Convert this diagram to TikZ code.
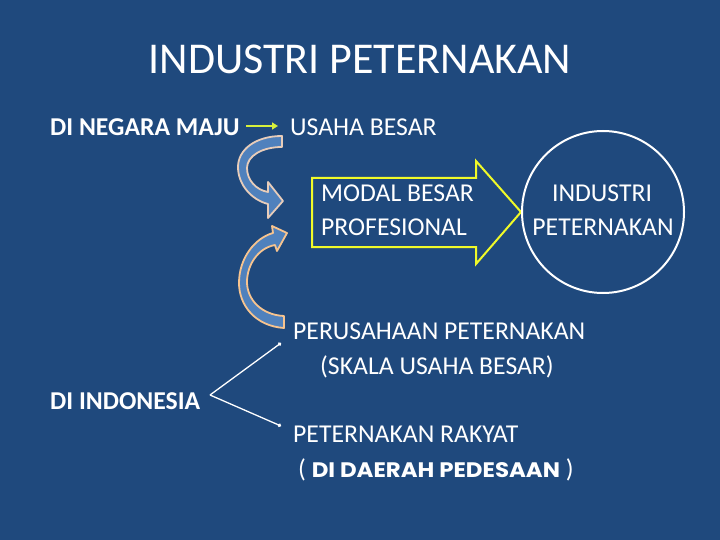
\documentclass[tikz,border=0pt]{standalone}
\usepackage{fontspec}
\usepackage{graphicx}
\setmainfont{Carlito}
\newfontfamily\disp{Poppins}
\usetikzlibrary{arrows.meta}
\definecolor{bg}{RGB}{31,73,125}
\definecolor{cfill}{RGB}{79,129,189}
\definecolor{cline1}{RGB}{232,205,186}
\definecolor{cline2}{RGB}{247,196,143}
\definecolor{ygreen}{RGB}{214,240,60}
\definecolor{yel}{RGB}{240,250,40}
\begin{document}
\begin{tikzpicture}[x=1pt,y=-1pt,
  txt/.style={text=white,inner sep=0pt,anchor=base west,font=\fontsize{25.7}{30}\selectfont},
  txtc/.style={text=white,inner sep=0pt,anchor=base,font=\fontsize{25.7}{30}\selectfont},
  curv1/.style={draw=cline1,fill=cfill,line width=1.8pt,line join=round},
  curv2/.style={draw=cline2,fill=cfill,line width=1.8pt,line join=round},
  conn/.style={draw=white,line width=1.3pt,-{Circle[length=3.5pt]}}]
\fill[bg] (0,0) rectangle (720,540);
\useasboundingbox (0,0) rectangle (720,540);
% title
\node[txtc,font=\fontsize{44}{50}\selectfont] (title) at (360,74) {INDUSTRI PETERNAKAN};
% top row
\node[txt,font=\bfseries\fontsize{25.7}{30}\selectfont] (maju) at (50,136) {DI NEGARA MAJU};
\node[txt] (usaha) at (290,136) {USAHA BESAR};
\coordinate (ga) at (246,126);
\coordinate (gb) at (278,126);
\draw[ygreen,line width=2pt,-{Triangle[length=6pt,width=7pt]}] (ga) -- (gb);
% curved arrows
\path[curv1] (282,136) .. controls (255,136) and (238,150) .. (238,167)
  .. controls (238,185) and (252,200) .. (268,204)
  -- (268,218) -- (283,201) -- (268,182) -- (268,192)
  .. controls (256,190) and (247,180) .. (247,168)
  .. controls (247,156) and (262,147) .. (282,147) -- cycle;
\path[curv2] (284,328) .. controls (255,326) and (239,305) .. (239,283)
  .. controls (239,258) and (255,238) .. (273,233)
  -- (272,226) -- (287,233) -- (277,251) -- (275,245)
  .. controls (258,248) and (247,265) .. (247,282)
  .. controls (247,300) and (262,315) .. (284,316) -- cycle;
% big arrow
\draw[yel,line width=2pt,line join=miter] (312,178) -- (476,178) -- (476,161) -- (521,212) -- (476,264) -- (476,247) -- (312,247) -- cycle;
\node[txt] (modal) at (321,202) {MODAL BESAR};
\node[txt] (prof) at (321,236) {PROFESIONAL};
% circle
\node[draw=white,line width=2pt,circle,minimum size=162pt,inner sep=0pt] (circ) at (603,212) {};
\node[txtc] (ind) at (602,202) {INDUSTRI};
\node[txtc] (pet) at (603,236) {PETERNAKAN};
% bottom
\node[txt] (perus) at (293,339) {PERUSAHAAN PETERNAKAN};
\node[txt] (skala) at (320,374) {(SKALA USAHA BESAR)};
\node[txt,font=\bfseries\fontsize{25.7}{30}\selectfont] (indo) at (50,409) {DI INDONESIA};
\node[txt] (rakyat) at (293,442) {PETERNAKAN RAKYAT};
\node[txt] (desa) at (298,477) {( \scalebox{1.09}[1]{\disp\bfseries\fontsize{21}{25}\selectfont DI DAERAH PEDESAAN} )};
\coordinate (v) at (210,395);
\coordinate (e1) at (281,343);
\coordinate (e2) at (281,426);
\draw[conn] (v) -- (e1);
\draw[conn] (v) -- (e2);
\end{tikzpicture}
\end{document}
